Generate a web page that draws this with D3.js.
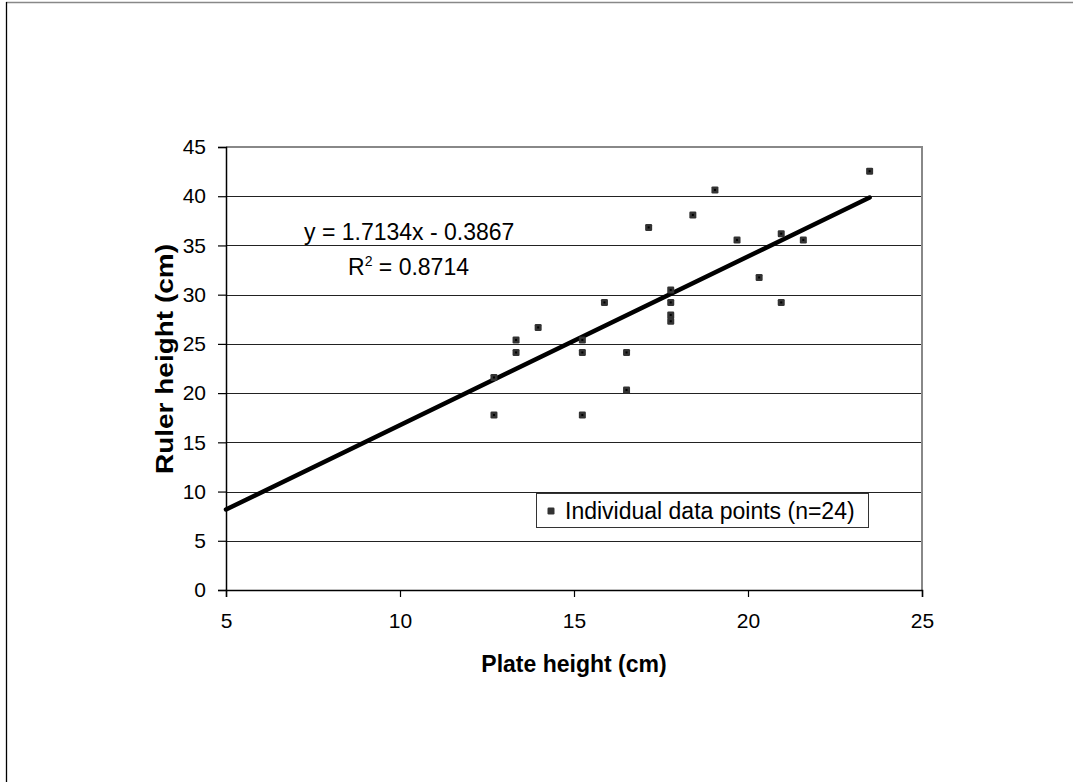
<!DOCTYPE html>
<html>
<head>
<meta charset="utf-8">
<script src="https://cdn.jsdelivr.net/npm/d3@7"></script>
<style>
  html, body { margin: 0; padding: 0; background: #fff; }
  svg { display: block; font-family: "Liberation Sans", Arial, sans-serif; }
</style>
</head>
<body>
<svg id="chart" width="1073" height="782"></svg>
<script>
// Data (plate height vs ruler height, cm)
const plateHeight = [12.7, 12.7, 13.335, 13.335, 13.97, 15.24, 15.24, 15.24, 15.875, 16.51, 16.51, 17.145,
                     17.78, 17.78, 17.78, 17.78, 18.415, 19.05, 19.685, 20.32, 20.955, 20.955, 21.59, 23.495];
const rulerHeight = [21.59, 17.78, 25.4, 24.13, 26.67, 25.4, 24.13, 17.78, 29.21, 24.13, 20.32, 36.83,
                     30.48, 29.21, 27.94, 27.305, 38.1, 40.64, 35.56, 31.75, 36.195, 29.21, 35.56, 42.545];
const slope = 1.7134, intercept = -0.3867, r2 = 0.8714;
const xTicks = [5, 10, 15, 20, 25];
const yTicks = [0, 5, 10, 15, 20, 25, 30, 35, 40, 45];
const xTitle = "Plate height (cm)";
const yTitle = "Ruler height (cm)";
const legendLabel = "Individual data points (n=24)";

const svg = d3.select("#chart");
const x = d3.scaleLinear().domain([5, 25]).range([226, 922]);
const y = d3.scaleLinear().domain([0, 45]).range([590, 147]);

// outer chart border
svg.append("line").attr("x1", 6).attr("x2", 1073).attr("y1", 2.5).attr("y2", 2.5)
  .attr("stroke", "#888").attr("stroke-width", 1.5);
svg.append("line").attr("x1", 6.5).attr("x2", 6.5).attr("y1", 2).attr("y2", 782)
  .attr("stroke", "#000").attr("stroke-width", 1.3);

// gridlines
svg.append("g").selectAll("line").data(yTicks.filter(d => d > 0 && d < 45)).join("line")
  .attr("x1", x(5)).attr("x2", x(25))
  .attr("y1", d => Math.round(y(d)) + 0.5).attr("y2", d => Math.round(y(d)) + 0.5)
  .attr("stroke", "#222").attr("stroke-width", 1);

// plot area border (top & right)
svg.append("path")
  .attr("d", `M${x(5)},${y(45)}H${x(25)}V${y(0)}`)
  .attr("fill", "none").attr("stroke", "#888").attr("stroke-width", 2);

// axes
const fs = 21;
const yAxis = svg.append("g").attr("transform", `translate(${x(5)},0)`)
  .call(d3.axisLeft(y).tickValues(yTicks).tickSize(8).tickPadding(12).tickFormat(d3.format("d")));
const xAxis = svg.append("g").attr("transform", `translate(0,${y(0)})`)
  .call(d3.axisBottom(x).tickValues(xTicks).tickSize(7).tickPadding(16).tickFormat(d3.format("d")));
[yAxis, xAxis].forEach(g => {
  g.select(".domain").attr("stroke", "#000").attr("stroke-width", 1.5);
  g.selectAll(".tick line").attr("stroke", "#000").attr("stroke-width", 1.2);
  g.selectAll("text").attr("font-size", fs).attr("fill", "#000")
    .attr("font-family", "'Liberation Sans', Arial, sans-serif");
});

// trend line
const line = d3.line().x(d => x(d)).y(d => y(slope * d + intercept));
svg.append("path").datum([5, d3.max(plateHeight)])
  .attr("d", line).attr("fill", "none").attr("stroke", "#000")
  .attr("stroke-width", 4.5).attr("stroke-linecap", "round");

// points
const pts = plateHeight.map((v, i) => [v, rulerHeight[i]]);
const g = svg.append("g");
g.selectAll("rect.m").data(pts).join("rect").attr("class", "m")
  .attr("x", d => x(d[0]) - 3.5).attr("y", d => y(d[1]) - 3.5)
  .attr("width", 7).attr("height", 7).attr("rx", 1.2)
  .attr("fill", "#333");
g.selectAll("rect.c").data(pts).join("rect").attr("class", "c")
  .attr("x", d => x(d[0]) - 1).attr("y", d => y(d[1]) - 1)
  .attr("width", 2).attr("height", 2).attr("fill", "#000");

// equation text
svg.append("text").attr("x", 304).attr("y", 240).attr("font-size", 23)
  .text(`y = ${slope}x - ${Math.abs(intercept)}`);
const rt = svg.append("text").attr("x", 348).attr("y", 275).attr("font-size", 23);
rt.append("tspan").text("R");
rt.append("tspan").attr("font-size", 14).attr("dy", -9).text("2");
rt.append("tspan").attr("dy", 9).text(` = ${r2}`);

// axis titles
svg.append("text").attr("x", 574).attr("y", 672).attr("text-anchor", "middle")
  .attr("font-size", 23).attr("font-weight", "bold").text(xTitle);
svg.append("text").attr("transform", "translate(173,359) rotate(-90)")
  .attr("text-anchor", "middle").attr("font-size", 23).attr("font-weight", "bold")
  .attr("textLength", 230).attr("lengthAdjust", "spacingAndGlyphs").text(yTitle);

// legend
const lg = svg.append("g");
lg.append("rect").attr("x", 536.5).attr("y", 493.5).attr("width", 332).attr("height", 34)
  .attr("fill", "#fff").attr("stroke", "#333").attr("stroke-width", 1);
lg.append("rect").attr("x", 551 - 3.5).attr("y", 511 - 3.5).attr("width", 7).attr("height", 7)
  .attr("rx", 1.2).attr("fill", "#333");
lg.append("text").attr("x", 565).attr("y", 519).attr("font-size", 23).text(legendLabel);
</script>
</body>
</html>
